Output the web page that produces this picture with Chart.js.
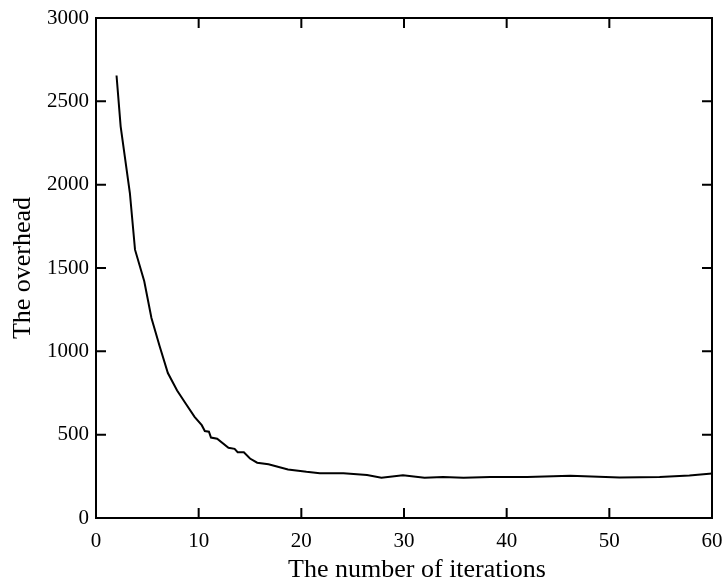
<!DOCTYPE html>
<html>
<head>
<meta charset="utf-8">
<script src="https://cdn.jsdelivr.net/npm/chart.js@4.4.1/dist/chart.umd.min.js"></script>
<style>
  body { margin: 0; background: #fff; }
  #wrap { width: 727px; height: 586px; position: relative; }
</style>
</head>
<body>
<div id="wrap"><canvas id="chart"></canvas></div>
<script>
// Overhead per iteration
const iterations = [2.0, 2.4, 3.3, 3.8, 4.7, 5.4, 6.2, 7.0, 7.9, 8.7, 9.6, 10.3, 10.6, 11.0, 11.2, 11.8,
  12.9, 13.5, 13.8, 14.4, 15.0, 15.7, 16.8, 18.7, 20.5, 21.8, 24.1, 26.4, 27.8, 29.9, 32.0, 33.8,
  35.8, 38.4, 42.0, 46.2, 51.0, 54.9, 57.8, 60.0];
const overhead = [2655, 2350, 1950, 1610, 1420, 1200, 1030, 870, 765, 690, 607, 557, 522, 518, 483, 476,
  421, 415, 395, 394, 357, 332, 322, 291, 277, 269, 268, 258, 242, 256, 242, 246,
  241, 246, 246, 253, 243, 246, 255, 267];

const xTicks = [0, 10, 20, 30, 40, 50, 60];
const yTicks = [0, 500, 1000, 1500, 2000, 2500, 3000];

Chart.defaults.color = '#000';
Chart.defaults.font.family = '"Liberation Serif", "Times New Roman", serif';

// box round the plot area with ticks pointing inward
const frameTicks = {
  id: 'frameTicks',
  afterDatasetsDraw(chart) {
    const { ctx, chartArea: a, scales: { x, y } } = chart;
    const len = 10;
    ctx.save();
    ctx.strokeStyle = '#000';
    ctx.lineWidth = 2;
    ctx.strokeRect(a.left, a.top, a.right - a.left, a.bottom - a.top);
    ctx.beginPath();
    xTicks.forEach(v => {
      const px = x.getPixelForValue(v);
      ctx.moveTo(px, a.bottom); ctx.lineTo(px, a.bottom - len);
      ctx.moveTo(px, a.top); ctx.lineTo(px, a.top + len);
    });
    yTicks.forEach(v => {
      const py = y.getPixelForValue(v);
      ctx.moveTo(a.left, py); ctx.lineTo(a.left + len, py);
      ctx.moveTo(a.right, py); ctx.lineTo(a.right - len, py);
    });
    ctx.stroke();
    ctx.restore();
  }
};

new Chart(document.getElementById('chart'), {
  type: 'line',
  data: {
    datasets: [{
      data: iterations.map((v, i) => ({ x: v, y: overhead[i] })),
      borderColor: '#000',
      borderWidth: 2,
      pointRadius: 0,
      tension: 0,
      fill: false
    }]
  },
  options: {
    responsive: true,
    maintainAspectRatio: false,
    animation: false,
    layout: { padding: { top: 18, right: 15, left: 0, bottom: 0 } },
    plugins: { legend: { display: false }, tooltip: { enabled: false } },
    scales: {
      x: {
        type: 'linear',
        min: 0, max: 60,
        afterFit(scale) {
          scale.height = 68;
          scale.paddingLeft = 0;
          scale.paddingRight = 0;
        },
        afterBuildTicks(scale) { scale.ticks = xTicks.map(v => ({ value: v })); },
        grid: { display: false, drawTicks: false },
        border: { display: false },
        ticks: { padding: 11, font: { size: 21 }, callback: v => String(v) },
        // leading spaces nudge the title right, as in the original figure
        title: { display: true, text: '    The number of iterations', font: { size: 26 }, padding: { top: 0, bottom: 0 } }
      },
      y: {
        min: 0, max: 3000,
        afterFit(scale) {
          scale.width = 96;
          scale.paddingTop = 0;
          scale.paddingBottom = 0;
        },
        afterBuildTicks(scale) { scale.ticks = yTicks.map(v => ({ value: v })); },
        grid: { display: false, drawTicks: false },
        border: { display: false },
        ticks: { padding: 7, font: { size: 21 }, callback: v => String(v) },
        title: { display: true, text: 'The overhead', font: { size: 26 }, padding: { top: 8, bottom: 0 } }
      }
    }
  },
  plugins: [frameTicks]
});
</script>
</body>
</html>
